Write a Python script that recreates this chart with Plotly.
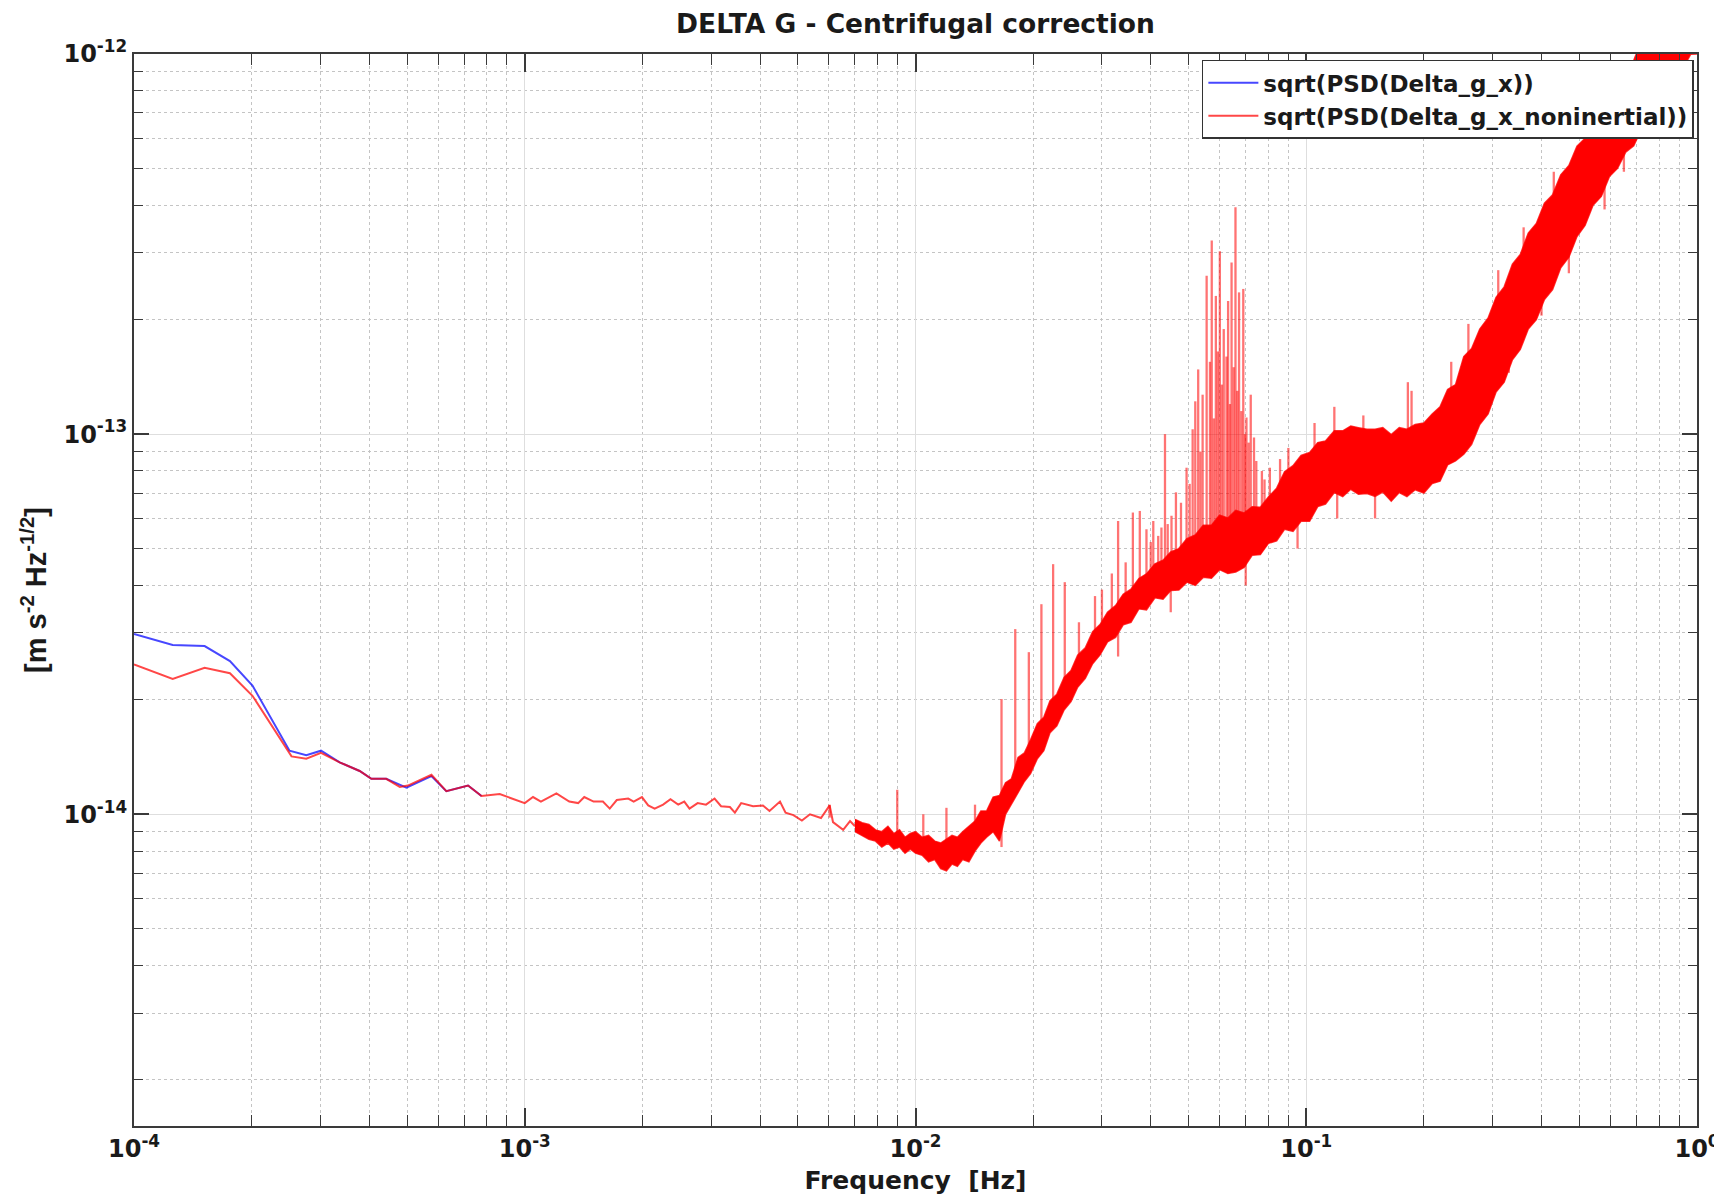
import plotly.graph_objects as go

# ---------------- data ----------------
# thin low-frequency part of sqrt(PSD(Delta_g_x_noninertial))
red_freq = [1.00e-4, 1.256e-4, 1.516e-4, 1.76e-4, 2.01e-4, 2.53e-4, 2.76e-4, 3.01e-4, 3.36e-4, 3.78e-4,
            4.05e-4, 4.42e-4, 4.79e-4, 5.02e-4, 5.77e-4, 6.30e-4, 7.16e-4, 7.75e-4, 8.63e-4, 9.33e-4,
            1.00e-3, 1.05e-3, 1.10e-3, 1.205e-3, 1.30e-3, 1.37e-3, 1.42e-3, 1.50e-3, 1.585e-3, 1.65e-3,
            1.72e-3, 1.84e-3, 1.90e-3, 1.995e-3, 2.07e-3, 2.15e-3, 2.26e-3, 2.36e-3, 2.47e-3, 2.56e-3,
            2.64e-3, 2.77e-3, 2.91e-3, 3.06e-3, 3.18e-3, 3.35e-3, 3.45e-3, 3.58e-3, 3.84e-3, 4.07e-3,
            4.23e-3, 4.50e-3, 4.65e-3, 4.87e-3, 5.12e-3, 5.37e-3, 5.73e-3, 6.03e-3, 6.15e-3, 6.53e-3,
            6.80e-3, 7.00e-3]
red_vals = [2.48e-14, 2.27e-14, 2.43e-14, 2.35e-14, 2.05e-14, 1.42e-14, 1.40e-14, 1.45e-14, 1.37e-14, 1.30e-14,
            1.24e-14, 1.24e-14, 1.18e-14, 1.19e-14, 1.27e-14, 1.15e-14, 1.19e-14, 1.117e-14, 1.13e-14, 1.10e-14,
            1.07e-14, 1.11e-14, 1.08e-14, 1.135e-14, 1.08e-14, 1.07e-14, 1.11e-14, 1.08e-14, 1.08e-14, 1.035e-14,
            1.09e-14, 1.10e-14, 1.08e-14, 1.11e-14, 1.055e-14, 1.035e-14, 1.06e-14, 1.095e-14, 1.06e-14, 1.08e-14,
            1.035e-14, 1.07e-14, 1.06e-14, 1.10e-14, 1.05e-14, 1.045e-14, 1.01e-14, 1.07e-14, 1.05e-14, 1.055e-14,
            1.02e-14, 1.08e-14, 1.01e-14, 9.95e-15, 9.63e-15, 1.00e-14, 9.78e-15, 1.055e-14, 9.54e-15, 9.10e-15,
            9.60e-15, 9.30e-15]

# sqrt(PSD(Delta_g_x)) where it differs visibly (beneath the red curve elsewhere)
blue_freq = [1.00e-4, 1.256e-4, 1.516e-4, 1.76e-4, 2.01e-4, 2.50e-4, 2.76e-4, 3.01e-4, 3.36e-4, 3.78e-4,
             4.05e-4, 4.42e-4, 4.98e-4, 5.77e-4, 6.30e-4, 7.16e-4, 7.75e-4]
blue_vals = [2.98e-14, 2.79e-14, 2.77e-14, 2.53e-14, 2.18e-14, 1.47e-14, 1.43e-14, 1.47e-14, 1.37e-14, 1.30e-14,
             1.24e-14, 1.24e-14, 1.175e-14, 1.26e-14, 1.15e-14, 1.19e-14, 1.117e-14]

# noisy band (lower / upper envelope) of the red curve above ~7 mHz
band_freq = [0.0070, 0.0073, 0.0076, 0.0079, 0.0082, 0.0085, 0.0088, 0.0091, 0.0094, 0.0097,
             0.0100, 0.0104, 0.0108, 0.0112, 0.0116, 0.0120, 0.0124, 0.0128, 0.0132, 0.0137,
             0.0142, 0.0147, 0.0152, 0.0158, 0.0164, 0.0170, 0.0176, 0.0183, 0.0190, 0.0197,
             0.0205, 0.0213, 0.0221, 0.0230, 0.0240, 0.0250, 0.0260, 0.0272, 0.0284, 0.0297,
             0.0310, 0.0325, 0.0340, 0.0356, 0.0373, 0.0390, 0.0410, 0.0430, 0.0450, 0.0472,
             0.0495, 0.0520, 0.0545, 0.0572, 0.0600, 0.0630, 0.0660, 0.0693, 0.0727, 0.0763,
             0.0800, 0.0840, 0.0880, 0.0925, 0.0970, 0.1020, 0.1070, 0.1120, 0.1180, 0.1240,
             0.1300, 0.1360, 0.1430, 0.1500, 0.1570, 0.1650, 0.1730, 0.1810, 0.1900, 0.2000,
             0.2100, 0.2200, 0.2300, 0.2410, 0.2530, 0.2650, 0.2780, 0.2920, 0.3060, 0.3210,
             0.3370, 0.3530, 0.3700, 0.3880, 0.4070, 0.4270, 0.4480, 0.4700, 0.4930, 0.5170,
             0.5420, 0.5690, 0.5970, 0.6260, 0.6570, 0.6890, 0.7230, 0.7580, 0.7950, 0.8340,
             0.8750, 0.9180, 0.9630, 1.0000]
band_lo = [9.0e-15, 8.8e-15, 8.6e-15, 8.5e-15, 8.2e-15, 8.4e-15, 8.1e-15, 8.2e-15, 7.9e-15, 8.1e-15,
           7.9e-15, 7.8e-15, 7.5e-15, 7.6e-15, 7.2e-15, 7.1e-15, 7.4e-15, 7.3e-15, 7.6e-15, 7.5e-15,
           8.0e-15, 8.4e-15, 8.7e-15, 9.0e-15, 8.5e-15, 1.00e-14, 1.06e-14, 1.14e-14, 1.22e-14, 1.28e-14,
           1.40e-14, 1.47e-14, 1.64e-14, 1.71e-14, 1.88e-14, 1.98e-14, 2.16e-14, 2.28e-14, 2.49e-14, 2.63e-14,
           2.84e-14, 2.92e-14, 3.15e-14, 3.20e-14, 3.47e-14, 3.45e-14, 3.71e-14, 3.68e-14, 3.88e-14, 3.89e-14,
           4.08e-14, 4.00e-14, 4.20e-14, 4.18e-14, 4.40e-14, 4.30e-14, 4.34e-14, 4.46e-14, 4.80e-14, 4.82e-14,
           5.16e-14, 5.24e-14, 5.62e-14, 5.55e-14, 5.90e-14, 5.90e-14, 6.45e-14, 6.55e-14, 7.02e-14, 6.85e-14,
           7.16e-14, 6.95e-14, 6.98e-14, 6.86e-14, 7.04e-14, 6.66e-14, 7.02e-14, 6.85e-14, 7.14e-14, 7.00e-14,
           7.42e-14, 7.52e-14, 8.30e-14, 8.50e-14, 8.85e-14, 9.40e-14, 1.06e-13, 1.13e-13, 1.29e-13, 1.37e-13,
           1.57e-13, 1.67e-13, 1.89e-13, 2.00e-13, 2.26e-13, 2.40e-13, 2.74e-13, 2.92e-13, 3.31e-13, 3.54e-13,
           4.00e-13, 4.22e-13, 4.76e-13, 5.00e-13, 5.52e-13, 5.74e-13, 6.39e-13, 6.60e-13, 7.44e-13, 7.84e-13,
           8.75e-13, 9.12e-13, 9.98e-13, 1.00e-12]
band_hi = [9.7e-15, 9.5e-15, 9.4e-15, 9.1e-15, 9.0e-15, 9.3e-15, 8.9e-15, 9.1e-15, 8.7e-15, 8.9e-15,
           9.0e-15, 8.7e-15, 8.8e-15, 8.5e-15, 8.4e-15, 8.6e-15, 8.8e-15, 8.7e-15, 9.0e-15, 9.3e-15,
           9.6e-15, 1.02e-14, 1.02e-14, 1.11e-14, 1.12e-14, 1.21e-14, 1.24e-14, 1.41e-14, 1.45e-14, 1.57e-14,
           1.73e-14, 1.80e-14, 1.99e-14, 2.07e-14, 2.29e-14, 2.39e-14, 2.62e-14, 2.74e-14, 3.02e-14, 3.16e-14,
           3.40e-14, 3.54e-14, 3.79e-14, 3.91e-14, 4.17e-14, 4.29e-14, 4.56e-14, 4.66e-14, 4.90e-14, 5.00e-14,
           5.31e-14, 5.43e-14, 5.76e-14, 5.76e-14, 6.12e-14, 6.02e-14, 6.30e-14, 6.20e-14, 6.44e-14, 6.42e-14,
           6.83e-14, 7.21e-14, 7.96e-14, 8.26e-14, 8.79e-14, 8.95e-14, 9.50e-14, 9.60e-14, 1.02e-13, 1.02e-13,
           1.05e-13, 1.04e-13, 1.03e-13, 1.03e-13, 1.04e-13, 9.98e-14, 1.04e-13, 1.03e-13, 1.06e-13, 1.07e-13,
           1.13e-13, 1.18e-13, 1.31e-13, 1.35e-13, 1.60e-13, 1.68e-13, 1.89e-13, 2.02e-13, 2.29e-13, 2.44e-13,
           2.80e-13, 2.97e-13, 3.38e-13, 3.58e-13, 4.05e-13, 4.26e-13, 4.81e-13, 5.09e-13, 5.72e-13, 6.00e-13,
           6.78e-13, 7.13e-13, 8.00e-13, 8.31e-13, 9.26e-13, 9.63e-13, 1.09e-12, 1.13e-12, 1.24e-12, 1.28e-12,
           1.44e-12, 1.49e-12, 1.65e-12, 1.71e-12]

# narrow spectral lines and noise excursions: frequency, foot on the band, tip
spike_freq = [0.00603, 0.00898, 0.01047, 0.0120, 0.0142, 0.0166, 0.0180, 0.0195, 0.0210, 0.0225,
              0.0241, 0.0262, 0.0288, 0.0300, 0.0318, 0.0330, 0.0345, 0.0360, 0.0375, 0.0390,
              0.0400, 0.0406, 0.0418, 0.0426, 0.0435, 0.0442, 0.0452, 0.0464, 0.0478, 0.0494,
              0.0503, 0.0512, 0.0520, 0.0529, 0.0536, 0.0543, 0.0556, 0.0567, 0.0573, 0.0580,
              0.0587, 0.0594, 0.0601, 0.0608, 0.0615, 0.0625, 0.0631, 0.0638, 0.0644, 0.0652,
              0.0659, 0.0666, 0.0673, 0.0682, 0.0690, 0.0697, 0.0703, 0.0712, 0.0721, 0.0735,
              0.0745, 0.0770, 0.0782, 0.0807, 0.0857, 0.0900, 0.1050, 0.118, 0.140, 0.182,
              0.186, 0.235, 0.260, 0.310, 0.360, 0.430, 0.550,
              0.0166, 0.0330, 0.0450, 0.0700, 0.0950, 0.1200, 0.1500, 0.3300, 0.4000, 0.4700,
              0.5800, 0.6500, 0.7900]
spike_base = [9.8e-15, 8.6e-15, 8.4e-15, 8.0e-15, 9.0e-15, 1.05e-14, 1.25e-14, 1.40e-14, 1.60e-14, 1.85e-14,
              2.05e-14, 2.30e-14, 2.70e-14, 2.90e-14, 3.10e-14, 3.30e-14, 3.40e-14, 3.60e-14, 3.75e-14, 3.90e-14,
              4.00e-14, 4.00e-14, 4.10e-14, 4.20e-14, 4.25e-14, 4.30e-14, 4.35e-14, 4.40e-14, 4.50e-14, 4.55e-14,
              4.60e-14, 4.65e-14, 4.70e-14, 4.75e-14, 4.80e-14, 4.80e-14, 4.85e-14, 4.90e-14, 4.95e-14, 5.00e-14,
              5.00e-14, 5.00e-14, 5.05e-14, 5.05e-14, 5.10e-14, 5.10e-14, 5.15e-14, 5.20e-14, 5.20e-14, 5.20e-14,
              5.20e-14, 5.25e-14, 5.30e-14, 5.30e-14, 5.35e-14, 5.40e-14, 5.40e-14, 5.45e-14, 5.50e-14, 5.55e-14,
              5.60e-14, 5.80e-14, 5.80e-14, 6.00e-14, 6.40e-14, 6.60e-14, 7.60e-14, 8.50e-14, 8.60e-14, 8.60e-14,
              8.60e-14, 1.05e-13, 1.40e-13, 2.10e-13, 2.80e-13, 3.90e-13, 6.20e-13,
              9.50e-15, 3.00e-14, 3.90e-14, 4.70e-14, 6.00e-14, 7.00e-14, 7.20e-14, 1.90e-13, 2.60e-13, 3.40e-13,
              5.00e-13, 6.00e-13, 8.00e-13]
spike_tip = [1.06e-14, 1.16e-14, 1.00e-14, 1.04e-14, 1.06e-14, 2.01e-14, 3.07e-14, 2.67e-14, 3.57e-14, 4.55e-14,
             4.08e-14, 3.20e-14, 3.75e-14, 3.90e-14, 4.30e-14, 5.91e-14, 4.60e-14, 6.22e-14, 6.28e-14, 5.62e-14,
             5.20e-14, 5.91e-14, 5.40e-14, 5.68e-14, 1.00e-13, 5.80e-14, 6.10e-14, 7.03e-14, 6.60e-14, 8.16e-14,
             7.40e-14, 1.03e-13, 1.22e-13, 1.48e-13, 9.00e-14, 1.27e-13, 2.61e-13, 1.55e-13, 3.23e-13, 1.10e-13,
             2.31e-13, 1.65e-13, 3.03e-13, 1.35e-13, 1.89e-13, 1.60e-13, 2.24e-13, 1.20e-13, 2.83e-13, 1.50e-13,
             3.95e-13, 1.30e-13, 2.36e-13, 1.15e-13, 2.41e-13, 1.00e-13, 1.106e-13, 9.50e-14, 1.27e-13, 9.80e-14,
             8.50e-14, 8.00e-14, 7.60e-14, 8.16e-14, 8.60e-14, 9.20e-14, 1.07e-13, 1.18e-13, 1.12e-13, 1.37e-13,
             1.30e-13, 1.55e-13, 1.95e-13, 2.70e-13, 3.50e-13, 4.90e-13, 7.60e-13,
             8.20e-15, 2.60e-14, 3.40e-14, 4.00e-14, 5.00e-14, 6.00e-14, 6.00e-14, 1.45e-13, 2.05e-13, 2.65e-13,
             3.90e-13, 4.90e-13, 6.40e-13]

# tick labels
x_tick_vals = [1e-4, 1e-3, 1e-2, 1e-1, 1.0]
x_tick_text = ["10<sup>-4</sup>", "10<sup>-3</sup>", "10<sup>-2</sup>", "10<sup>-1</sup>", "10<sup>0</sup>"]
y_tick_vals = [1e-14, 1e-13, 1e-12]
y_tick_text = ["10<sup>-14</sup>", "10<sup>-13</sup>", "10<sup>-12</sup>"]

series_names = ["sqrt(PSD(Delta_g_x))", "sqrt(PSD(Delta_g_x_noninertial))"]

# ---------------- figure ----------------
RED_LINE = "rgba(255,0,0,0.72)"
BLUE_LINE = "rgba(0,0,255,0.72)"
HFONT = "DejaVu Sans"
TXT = "#1a1a1a"
AX = "#3a3a3a"

fig = go.Figure()

fig.add_trace(go.Scatter(x=blue_freq, y=blue_vals, mode="lines", name=series_names[0],
                         line=dict(color=BLUE_LINE, width=2)))
fig.add_trace(go.Scatter(x=red_freq, y=red_vals, mode="lines", name=series_names[1],
                         line=dict(color=RED_LINE, width=2)))
fig.add_trace(go.Scatter(x=band_freq, y=band_lo, mode="lines", showlegend=False,
                         line=dict(color="rgba(255,0,0,0.8)", width=1.5)))
fig.add_trace(go.Scatter(x=band_freq, y=band_hi, mode="lines", showlegend=False,
                         fill="tonexty", fillcolor="rgb(255,0,0)",
                         line=dict(color="rgba(255,0,0,0.8)", width=1.5)))

sx, sy = [], []
for f, b, t in zip(spike_freq, spike_base, spike_tip):
    sx += [f, f, None]
    sy += [b, t, None]
fig.add_trace(go.Scatter(x=sx, y=sy, mode="lines", showlegend=False, connectgaps=False,
                         line=dict(color="rgba(255,0,0,0.55)", width=2.3)))

# minor tick positions (2..9 within each decade)
minor_x = [k * 10.0 ** d for d in range(-4, 0) for k in range(2, 10)]
minor_y = [k * 10.0 ** d for d in range(-16, -12) for k in range(2, 10)
           if 1.5e-15 <= k * 10.0 ** d <= 1e-12]

axis_common = dict(
    type="log", showline=True, linecolor=AX, linewidth=2, mirror="ticks",
    ticks="inside", tickcolor=AX, tickwidth=1.5,
    showgrid=True, gridcolor="#dedede", gridwidth=1.2, zeroline=False,
    tickfont=dict(family=HFONT, size=24, color=TXT, weight="bold"),
    ticklabeloverflow="allow",
)

fig.update_xaxes(
    **axis_common,
    range=[-4, 0], tickmode="array", tickvals=x_tick_vals, ticktext=x_tick_text, ticklen=18,
    minor=dict(tickmode="array", tickvals=minor_x, ticks="inside", ticklen=11, tickwidth=1.2,
               tickcolor=AX, showgrid=True, gridcolor="#c4c4c4", griddash="dot", gridwidth=1),
    title=dict(text="<b>Frequency\u00a0 [Hz]</b>", standoff=10,
               font=dict(family=HFONT, size=25, color=TXT)),
)
fig.update_yaxes(
    **axis_common,
    range=[-14.82, -12], tickmode="array", tickvals=y_tick_vals, ticktext=y_tick_text, ticklen=15,
    minor=dict(tickmode="array", tickvals=minor_y, ticks="inside", ticklen=9, tickwidth=1.2,
               tickcolor=AX, showgrid=True, gridcolor="#c4c4c4", griddash="dot", gridwidth=1),
    title=dict(text="<b>[m s<sup>-2</sup> Hz<sup>-1/2</sup>]</b>", standoff=8,
               font=dict(family="Liberation Sans", size=29, color=TXT)),
)

fig.update_layout(
    width=1714, height=1203,
    margin=dict(l=134, r=17, t=54, b=77, autoexpand=False),
    paper_bgcolor="white", plot_bgcolor="white",
    title=dict(text="<b>DELTA G - Centrifugal correction</b>", x=0.5, xref="paper", xanchor="center",
               y=1 - 24 / 1203, yref="container", yanchor="middle",
               font=dict(family=HFONT, size=26.5, color=TXT)),
    legend=dict(x=0.998, xanchor="right", y=0.9945, yanchor="top", traceorder="normal",
                bgcolor="white", bordercolor="#333333", borderwidth=1.5,
                font=dict(family=HFONT, size=23, color=TXT, weight="bold"),
                itemwidth=50, tracegroupgap=0),
    showlegend=True,
)

fig.write_html("out.html")
